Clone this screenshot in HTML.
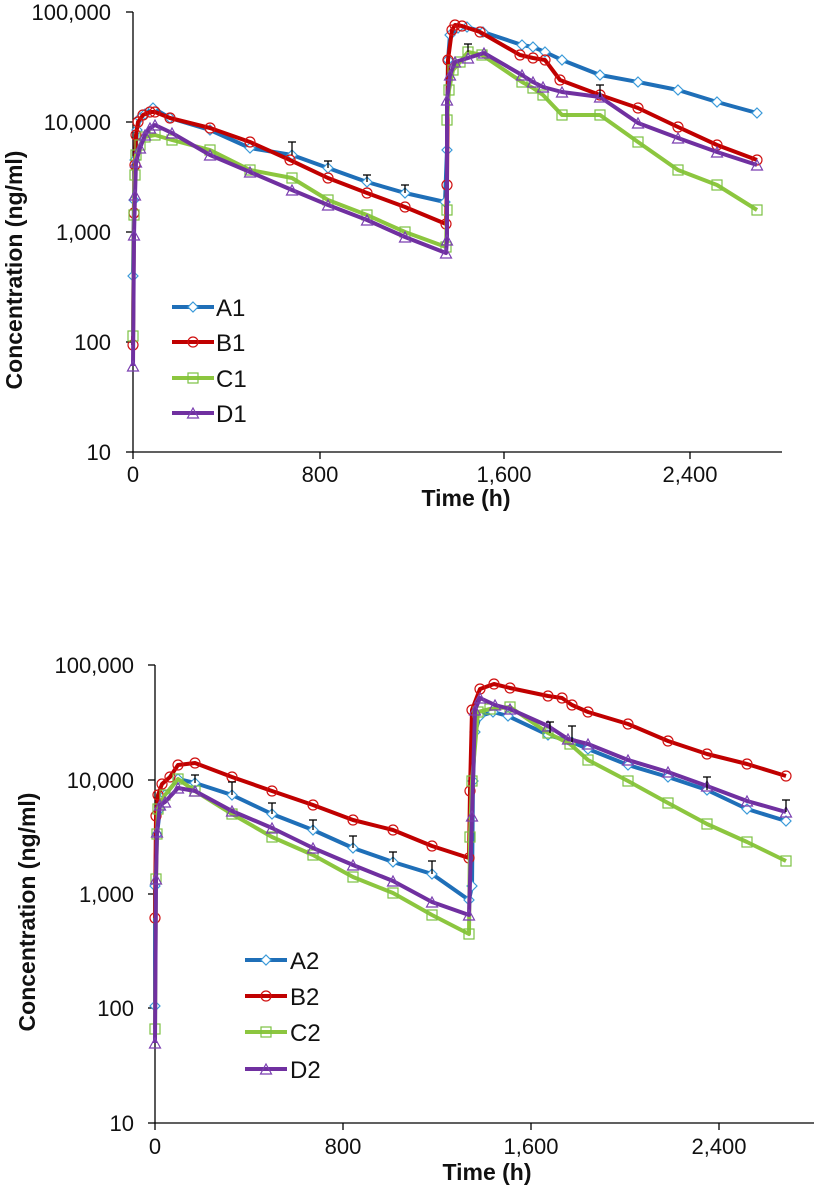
<!DOCTYPE html>
<html><head><meta charset="utf-8"><style>
body{margin:0;background:#fff}
svg{display:block;font-family:"Liberation Sans",Arial,sans-serif}
.t{font-size:22px;fill:#111}
.b{font-size:23px;font-weight:bold;fill:#111}
.l{font-size:24px;fill:#111}
polyline{fill:none;stroke-width:4;stroke-linejoin:round}
</style></head><body>
<svg width="814" height="1192" viewBox="0 0 814 1192" xmlns="http://www.w3.org/2000/svg">
<defs>
<marker id="mA" markerUnits="userSpaceOnUse" markerWidth="14" markerHeight="14" refX="7" refY="7"><path d="M7 2 L12 7 L7 12 L2 7Z" fill="#fff" stroke="#3a9ad9" stroke-width="1.2"/></marker>
<marker id="mB" markerUnits="userSpaceOnUse" markerWidth="14" markerHeight="14" refX="7" refY="7"><circle cx="7" cy="7" r="5" fill="none" stroke="#d01010" stroke-width="1.2"/></marker>
<marker id="mC" markerUnits="userSpaceOnUse" markerWidth="14" markerHeight="14" refX="7" refY="7"><rect x="2" y="2" width="10" height="10" fill="none" stroke="#7cc242" stroke-width="1.2"/></marker>
<marker id="mD" markerUnits="userSpaceOnUse" markerWidth="14" markerHeight="14" refX="7" refY="7"><path d="M7 2 L12.5 12 L1.5 12Z" fill="none" stroke="#7a3fb0" stroke-width="1.2"/></marker>
</defs>

<!-- TOP CHART -->
<g stroke="#000" stroke-width="1.3">
<line x1="133" y1="12" x2="133" y2="452"/>
<line x1="133" y1="452" x2="782" y2="452"/>
<line x1="126" y1="12" x2="133" y2="12"/><line x1="126" y1="122" x2="133" y2="122"/><line x1="126" y1="232" x2="133" y2="232"/><line x1="126" y1="342" x2="133" y2="342"/><line x1="126" y1="452" x2="133" y2="452"/>
<line x1="133" y1="452" x2="133" y2="459"/><line x1="320" y1="452" x2="320" y2="459"/><line x1="504" y1="452" x2="504" y2="459"/><line x1="690" y1="452" x2="690" y2="459"/>
</g>
<g class="t" text-anchor="end">
<text x="111" y="20">100,000</text><text x="111" y="130">10,000</text><text x="111" y="240">1,000</text><text x="111" y="350">100</text><text x="111" y="460">10</text>
</g>
<g class="t" text-anchor="middle">
<text x="133" y="482">0</text><text x="320" y="482">800</text><text x="504" y="482">1,600</text><text x="690" y="482">2,400</text>
</g>
<text class="b" x="466" y="506" text-anchor="middle">Time (h)</text>
<text class="b" transform="translate(22,270) rotate(-90)" text-anchor="middle">Concentration (ng/ml)</text>

<polyline stroke="#1f6fb8" marker-start="url(#mA)" marker-mid="url(#mA)" marker-end="url(#mA)" points="133,276 134,200 135,160 137,130 140,118 145,114 153,108 170,118 210,130 250,148 292,155 328,168 367,182 405,193 445,202 447,150 448,60 450,35 458,28 467,27 483,32 522,45 533,47 545,52 562,60 600,75 638,82 678,90 717,102 757,113"/>
<polyline stroke="#c00000" marker-start="url(#mB)" marker-mid="url(#mB)" marker-end="url(#mB)" points="133,345 134,213 135,165 136,135 138,122 143,115 150,112 155,112 170,118 210,128 250,142 290,160 328,178 367,193 405,207 446,224 447,185 448,60 452,30 455,25 462,26 480,32 520,55 533,58 545,60 560,80 600,95 638,108 678,127 717,145 757,160"/>
<polyline stroke="#8cc63f" marker-start="url(#mC)" marker-mid="url(#mC)" marker-end="url(#mC)" points="133,336 134,215 135,175 136,155 140,145 145,137 155,135 172,140 210,150 250,170 292,178 328,200 367,215 405,232 446,247 447,210 447,120 449,90 453,70 460,62 468,52 482,55 522,82 533,88 543,95 562,115 600,115 638,142 678,170 717,185 757,210"/>
<polyline stroke="#7030a0" marker-start="url(#mD)" marker-mid="url(#mD)" marker-end="url(#mD)" points="133,366 134,235 135,195 136,162 140,148 145,135 150,128 155,125 172,133 210,155 250,172 292,190 328,205 367,220 405,237 446,253 447,240 447,100 450,75 455,62 468,58 484,53 522,75 533,82 543,87 562,92 600,97 638,123 678,138 717,152 757,165"/>
<g stroke="#000" stroke-width="1.3">
<line x1="292" y1="155" x2="292" y2="142"/><line x1="288" y1="142" x2="296" y2="142"/>
<line x1="328" y1="168" x2="328" y2="161"/><line x1="324" y1="161" x2="332" y2="161"/>
<line x1="367" y1="182" x2="367" y2="175"/><line x1="363" y1="175" x2="371" y2="175"/>
<line x1="405" y1="193" x2="405" y2="185"/><line x1="401" y1="185" x2="409" y2="185"/>
<line x1="468" y1="52" x2="468" y2="44"/><line x1="464" y1="44" x2="472" y2="44"/>
<line x1="600" y1="97" x2="600" y2="85"/><line x1="596" y1="85" x2="604" y2="85"/>
</g>
<g stroke-width="4">
<line x1="172" y1="307" x2="214" y2="307" stroke="#1f6fb8"/>
<line x1="172" y1="342" x2="214" y2="342" stroke="#c00000"/>
<line x1="172" y1="378" x2="214" y2="378" stroke="#8cc63f"/>
<line x1="172" y1="413" x2="214" y2="413" stroke="#7030a0"/>
</g>
<path d="M193 302 L198 307 L193 312 L188 307Z" fill="#fff" stroke="#3a9ad9" stroke-width="1.2"/>
<circle cx="193" cy="342" r="5" fill="none" stroke="#d01010" stroke-width="1.2"/>
<rect x="188" y="373" width="10" height="10" fill="none" stroke="#7cc242" stroke-width="1.2"/>
<path d="M193 408 L198.5 418 L187.5 418Z" fill="none" stroke="#7a3fb0" stroke-width="1.2"/>
<g class="l"><text x="216" y="316">A1</text><text x="216" y="351">B1</text><text x="216" y="387">C1</text><text x="216" y="422">D1</text></g>

<!-- BOTTOM CHART -->
<g stroke="#000" stroke-width="1.3">
<line x1="155" y1="665" x2="155" y2="1123"/>
<line x1="155" y1="1123" x2="814" y2="1123"/>
<line x1="148" y1="665" x2="155" y2="665"/><line x1="148" y1="780" x2="155" y2="780"/><line x1="148" y1="894" x2="155" y2="894"/><line x1="148" y1="1008" x2="155" y2="1008"/><line x1="148" y1="1123" x2="155" y2="1123"/>
<line x1="155" y1="1123" x2="155" y2="1130"/><line x1="343" y1="1123" x2="343" y2="1130"/><line x1="531" y1="1123" x2="531" y2="1130"/><line x1="719" y1="1123" x2="719" y2="1130"/>
</g>
<g class="t" text-anchor="end">
<text x="134" y="673">100,000</text><text x="134" y="788">10,000</text><text x="134" y="902">1,000</text><text x="134" y="1016">100</text><text x="134" y="1131">10</text>
</g>
<g class="t" text-anchor="middle">
<text x="155" y="1154">0</text><text x="343" y="1154">800</text><text x="531" y="1154">1,600</text><text x="719" y="1154">2,400</text>
</g>
<text class="b" x="487" y="1180" text-anchor="middle">Time (h)</text>
<text class="b" transform="translate(35,912) rotate(-90)" text-anchor="middle">Concentration (ng/ml)</text>

<polyline stroke="#1f6fb8" marker-start="url(#mA)" marker-mid="url(#mA)" marker-end="url(#mA)" points="155,1006 155,886 157,834 160,809 165,795 178,779 195,783 232,795 272,814 313,830 353,848 393,862 432,874 469,900 472,886 473,781 475,732 480,716 493,712 508,716 548,735 572,742 588,749 628,765 668,777 707,790 747,809 786,821"/>
<polyline stroke="#c00000" marker-start="url(#mB)" marker-mid="url(#mB)" marker-end="url(#mB)" points="155,918 156,816 158,795 162,784 170,777 178,765 195,763 232,777 272,791 313,805 353,820 393,830 432,846 469,858 470,791 472,710 480,689 494,684 510,688 548,696 562,698 572,705 588,712 628,724 668,741 707,754 747,764 786,776"/>
<polyline stroke="#8cc63f" marker-start="url(#mC)" marker-mid="url(#mC)" marker-end="url(#mC)" points="155,1029 156,879 157,834 158,809 165,795 178,779 195,791 232,814 272,837 313,855 353,877 393,893 432,915 469,934 470,837 472,781 478,712 490,709 510,707 548,733 570,744 588,760 628,781 668,803 707,824 747,842 786,861"/>
<polyline stroke="#7030a0" marker-start="url(#mD)" marker-mid="url(#mD)" marker-end="url(#mD)" points="155,1043 156,879 157,832 160,805 165,802 178,788 195,791 232,811 272,828 313,848 353,865 393,881 432,902 469,915 472,816 475,710 480,698 495,705 510,709 548,726 568,739 588,744 628,760 668,772 707,786 747,801 786,812"/>
<g stroke="#000" stroke-width="1.3">
<line x1="195" y1="783" x2="195" y2="775"/><line x1="191" y1="775" x2="199" y2="775"/>
<line x1="232" y1="795" x2="232" y2="782"/><line x1="228" y1="782" x2="236" y2="782"/>
<line x1="272" y1="814" x2="272" y2="803"/><line x1="268" y1="803" x2="276" y2="803"/>
<line x1="313" y1="830" x2="313" y2="820"/><line x1="309" y1="820" x2="317" y2="820"/>
<line x1="353" y1="848" x2="353" y2="836"/><line x1="349" y1="836" x2="357" y2="836"/>
<line x1="393" y1="862" x2="393" y2="852"/><line x1="389" y1="852" x2="397" y2="852"/>
<line x1="432" y1="874" x2="432" y2="861"/><line x1="428" y1="861" x2="436" y2="861"/>
<line x1="550" y1="733" x2="550" y2="722"/><line x1="546" y1="722" x2="554" y2="722"/>
<line x1="572" y1="742" x2="572" y2="726"/><line x1="568" y1="726" x2="576" y2="726"/>
<line x1="707" y1="790" x2="707" y2="777"/><line x1="703" y1="777" x2="711" y2="777"/>
<line x1="786" y1="812" x2="786" y2="800"/><line x1="782" y1="800" x2="790" y2="800"/>
</g>
<g stroke-width="4">
<line x1="245" y1="960" x2="287" y2="960" stroke="#1f6fb8"/>
<line x1="245" y1="996" x2="287" y2="996" stroke="#c00000"/>
<line x1="245" y1="1032" x2="287" y2="1032" stroke="#8cc63f"/>
<line x1="245" y1="1069" x2="287" y2="1069" stroke="#7030a0"/>
</g>
<path d="M266 955 L271 960 L266 965 L261 960Z" fill="#fff" stroke="#3a9ad9" stroke-width="1.2"/>
<circle cx="266" cy="996" r="5" fill="none" stroke="#d01010" stroke-width="1.2"/>
<rect x="261" y="1027" width="10" height="10" fill="none" stroke="#7cc242" stroke-width="1.2"/>
<path d="M266 1064 L271.5 1074 L260.5 1074Z" fill="none" stroke="#7a3fb0" stroke-width="1.2"/>
<g class="l"><text x="290" y="969">A2</text><text x="290" y="1005">B2</text><text x="290" y="1041">C2</text><text x="290" y="1078">D2</text></g>
</svg>
</body></html>
